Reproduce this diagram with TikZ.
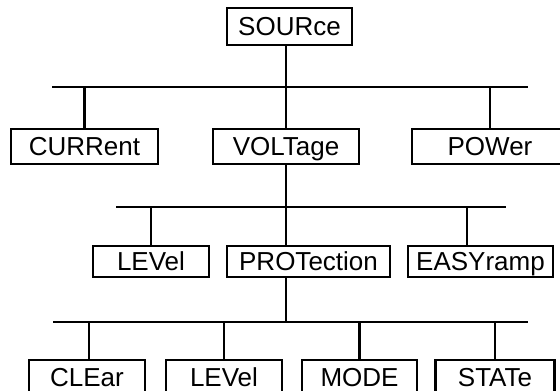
\documentclass[tikz,border=0pt]{standalone}
\usepackage{fontspec}
\setmainfont{Liberation Sans}
\begin{document}
\begin{tikzpicture}[x=1pt, y=-1pt,
    box/.style={draw, rectangle, line width=2.8pt, inner sep=0pt, text height=18.5pt, text depth=0pt, font=\fontsize{26}{31}\selectfont},
    wire/.style={line width=2.8pt}]
    \useasboundingbox (0,0) rectangle (560,391);
    \clip (0,0) rectangle (560,391);

    \node[box, minimum width=125pt, minimum height=37pt] (src) at (289.5,26.5) {SOURce};

    \node[box, minimum width=147pt, minimum height=35pt] (cur) at (84.5,146.5) {CURRent};
    \node[box, minimum width=146pt, minimum height=35pt] (volt) at (286,146.5) {VOLTage};
    \node[box, minimum width=170pt, minimum height=35pt] (pow) at (497,146.5) {\hspace*{-14pt}POWer};

    \node[box, minimum width=116pt, minimum height=31pt] (lev) at (151,261.5) {LEVel};
    \node[box, minimum width=163pt, minimum height=31pt] (prot) at (308.5,261.5) {PROTection};
    \node[box, minimum width=145pt, minimum height=31pt] (easy) at (480.5,261.5) {EASYramp};

    \node[box, minimum width=116pt, minimum height=35pt] (clr) at (87,377.5) {CLEar};
    \node[box, minimum width=116pt, minimum height=35pt] (plev) at (224,377.5) {LEVel};
    \node[box, minimum width=115pt, minimum height=35pt] (mode) at (359.5,377.5) {MODE};
    \node[box, minimum width=119pt, minimum height=35pt] (stat) at (495,377.5) {STATe};

    \coordinate (b1l) at (52,87);
    \coordinate (b1r) at (528,87);
    \coordinate (b2l) at (116,207);
    \coordinate (b2r) at (506,207);
    \coordinate (b3l) at (53,322);
    \coordinate (b3r) at (528,322);

    \draw[wire] (b1l) -- (b1r);
    \draw[wire] (b2l) -- (b2r);
    \draw[wire] (b3l) -- (b3r);

    \draw[wire] (volt.north) -- (volt.north |- src.south);
    \draw[wire] (volt.south) -- (volt.south |- prot.north);
    \draw[wire] (volt.south |- prot.south) -- (volt.south |- b3l);

    \draw[wire] (cur.north) -- (cur.north |- b1l);
    \draw[wire] ([xshift=-7pt]pow.north) -- ([xshift=-7pt]pow.north |- b1l);

    \draw[wire] (lev.north) -- (lev.north |- b2l);
    \draw[wire] ([xshift=-13.5pt]easy.north) -- ([xshift=-13.5pt]easy.north |- b2l);

    \draw[wire] ([xshift=2pt]clr.north) -- ([xshift=2pt]clr.north |- b3l);
    \draw[wire] (plev.north) -- (plev.north |- b3l);
    \draw[wire] (mode.north) -- (mode.north |- b3l);
    \draw[wire] (stat.north) -- (stat.north |- b3l);
\end{tikzpicture}
\end{document}
